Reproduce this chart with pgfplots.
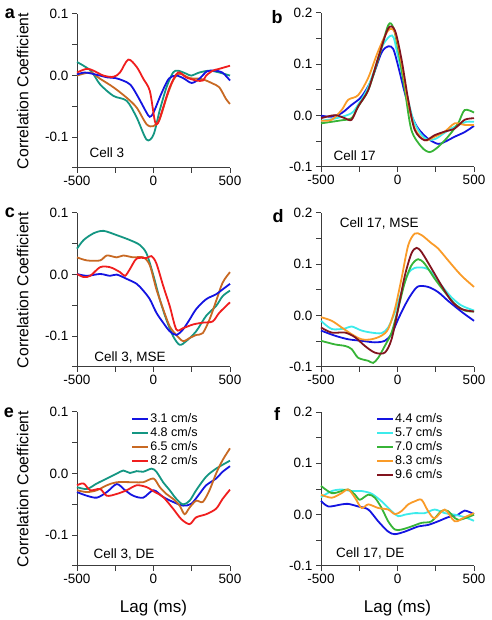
\documentclass[border=0pt]{standalone}
\usepackage{pgfplots}
\pgfplotsset{compat=1.18}
\usepackage{fontspec}
\setmainfont{Liberation Sans}
\definecolor{axisgray}{RGB}{60,60,60}
\definecolor{blueC}{RGB}{20,20,225}
\definecolor{tealC}{RGB}{20,150,130}
\definecolor{brownC}{RGB}{200,105,35}
\definecolor{redC}{RGB}{240,30,30}
\definecolor{cyanC}{RGB}{60,235,235}
\definecolor{greenC}{RGB}{55,180,55}
\definecolor{orangeC}{RGB}{250,155,40}
\definecolor{darkredC}{RGB}{130,20,30}
\tikzset{ann/.style={font=\fontsize{13.5}{16}\selectfont, anchor=west}}
\pgfplotsset{
  panel/.style={
    scale only axis, width=153pt, height=154pt,
    xmin=-500, xmax=500,
    axis x line*=bottom, axis y line*=left,
    tick align=outside, major tick length=5pt,
    xtick={-500,-250,0,250,500}, xticklabels={-500,,0,,500},
    axis line style={line width=1pt, color=axisgray},
    every tick/.style={line width=1pt, color=axisgray},
    tick label style={font=\fontsize{13.5}{16}\selectfont, text=black},
    clip=false,
    every axis plot/.append style={line width=1.8pt, smooth, tension=0.5, no markers},
    legend image code/.code={\draw[#1, line width=1.8pt] (0pt,0pt) -- (16pt,0pt);},
  },
  leftp/.style={panel, ymin=-0.15, ymax=0.1,
    ytick={-0.15,-0.1,-0.05,0,0.05,0.1}, yticklabels={,-0.1,,0.0,,0.1},
    ylabel={Correlation Coefficient},
    ylabel style={at={(axis description cs:-0.354,0.5)}, anchor=center, font=\fontsize{15.8}{18}\selectfont}},
  rightp/.style={panel, ymin=-0.1, ymax=0.2,
    ytick={-0.1,-0.05,0,0.05,0.1,0.15,0.2}, yticklabels={-0.1,,0.0,,0.1,,0.2}},
  lagl/.style={xlabel={Lag (ms)},
    xlabel style={at={(axis description cs:0.5,0)}, yshift=-42pt, anchor=center, font=\fontsize{17}{20}\selectfont}},
  leg/.style={legend style={at={(axis description cs:#1,1.0)}, anchor=north west, draw=none, fill=none,
    inner sep=0pt, row sep=0pt, font=\fontsize{12.5}{15}\selectfont,
    nodes={inner sep=1pt, text height=9.5pt, text depth=2.5pt}},
    legend cell align=left},
}
\begin{document}
\begin{tikzpicture}[x=1pt,y=1pt]
\useasboundingbox (0,0) rectangle (491,620);
\tikzset{plet/.style={font=\fontsize{18}{20}\selectfont\bfseries, anchor=center}}
\node[plet] at (10,606) {a};
\node[plet] at (277,603) {b};
\node[plet] at (10,407) {c};
\node[plet] at (278,404) {d};
\node[plet] at (9,207) {e};
\node[plet] at (277,206) {f};

% ---------- a ----------
\begin{axis}[leftp, at={(77pt,452pt)}, anchor=south west]
\addplot[tealC] coordinates {(-500,0.022)(-410,0.008)(-350,-0.014)(-262,-0.033)(-175,-0.041)(-110,-0.068)(-45,-0.104)(0,-0.096)(40,-0.057)(85,-0.019)(128,0.005)(160,0.008)(215,0.003)(247,0)(300,0.005)(366,0.008)(430,0.005)(500,0)};
\addplot[brownC] coordinates {(-500,0)(-413,0.005)(-350,-0.005)(-262,-0.019)(-175,-0.036)(-110,-0.052)(-45,-0.079)(0,-0.082)(40,-0.071)(85,-0.036)(128,-0.008)(170,0.003)(236,-0.004)(300,-0.005)(344,-0.008)(387,-0.013)(430,-0.019)(474,-0.038)(500,-0.046)};
\addplot[blueC] coordinates {(-500,0.002)(-450,0.005)(-400,0.003)(-350,0)(-300,-0.003)(-250,-0.004)(-200,-0.008)(-150,-0.015)(-100,-0.035)(-50,-0.058)(-25,-0.067)(0,-0.06)(50,-0.03)(100,-0.005)(150,0)(200,-0.005)(250,-0.012)(300,-0.005)(350,0.007)(400,0.008)(450,0.005)(500,-0.008)};
\addplot[redC] coordinates {(-500,0.005)(-437,0.011)(-392,0.008)(-327,0)(-262,-0.002)(-219,0.005)(-165,0.026)(-110,0.014)(-67,-0.005)(-24,-0.025)(9,-0.074)(30,-0.077)(63,-0.052)(106,-0.019)(160,0.005)(214,-0.003)(280,-0.008)(323,-0.008)(344,0)(388,0.008)(430,0.011)(500,0.016)};
\node[ann] at (axis description cs:0.06,0.1) {Cell 3};
\end{axis}

% ---------- b ----------
\begin{axis}[rightp, at={(321pt,453pt)}, anchor=south west]
\addplot[blueC] coordinates {(-500,0)(-430,-0.002)(-365,0.005)(-300,0.021)(-235,0.037)(-170,0.07)(-104,0.123)(-61,0.135)(-28,0.13)(4,0.097)(48,0.044)(91,0.001)(135,-0.025)(200,-0.045)(265,-0.055)(309,-0.051)(374,-0.041)(439,-0.032)(500,-0.02)};
\addplot[cyanC] coordinates {(-500,-0.01)(-400,-0.005)(-300,0.005)(-250,0.025)(-200,0.05)(-150,0.09)(-100,0.135)(-50,0.155)(-25,0.152)(0,0.12)(50,0.055)(100,-0.005)(150,-0.035)(200,-0.047)(250,-0.045)(300,-0.035)(350,-0.025)(400,-0.018)(450,-0.012)(500,-0.012)};
\addplot[greenC] coordinates {(-500,-0.015)(-365,-0.009)(-300,-0.005)(-257,0.018)(-191,0.05)(-126,0.11)(-61,0.176)(-28,0.172)(4,0.13)(48,0.05)(91,-0.028)(157,-0.061)(210,-0.071)(265,-0.061)(330,-0.041)(396,-0.015)(439,0.011)(500,0.006)};
\addplot[orangeC] coordinates {(-500,-0.01)(-430,-0.008)(-365,0.011)(-322,0.031)(-257,0.04)(-191,0.074)(-126,0.126)(-61,0.166)(-17,0.162)(26,0.103)(70,0.024)(113,-0.025)(178,-0.048)(243,-0.041)(309,-0.031)(374,-0.015)(439,-0.018)(500,-0.018)};
\addplot[darkredC] coordinates {(-500,-0.005)(-409,0.001)(-343,-0.005)(-300,-0.008)(-257,0.018)(-191,0.05)(-126,0.113)(-61,0.17)(-17,0.166)(26,0.11)(70,0.031)(113,-0.028)(178,-0.048)(243,-0.038)(309,-0.031)(374,-0.025)(439,-0.008)(500,-0.005)};
\node[ann] at (axis description cs:0.06,0.075) {Cell 17};
\end{axis}

% ---------- c ----------
\begin{axis}[leftp, at={(77pt,253pt)}, anchor=south west]
\addplot[tealC] coordinates {(-500,0.042)(-457,0.056)(-392,0.067)(-327,0.071)(-240,0.064)(-154,0.056)(-89,0.048)(-45,0.034)(0,-0.002)(41,-0.04)(84,-0.073)(128,-0.1)(171,-0.114)(214,-0.108)(279,-0.092)(344,-0.067)(409,-0.051)(452,-0.035)(500,-0.026)};
\addplot[brownC] coordinates {(-500,0.028)(-435,0.023)(-349,0.023)(-305,0.031)(-240,0.028)(-197,0.031)(-132,0.028)(-67,0.028)(-24,0.015)(19,-0.024)(63,-0.056)(106,-0.084)(149,-0.098)(193,-0.108)(236,-0.103)(279,-0.098)(322,-0.095)(366,-0.073)(409,-0.043)(452,-0.013)(500,0.004)};
\addplot[blueC] coordinates {(-500,0.001)(-435,-0.002)(-349,0.001)(-284,-0.002)(-240,0)(-175,-0.007)(-110,-0.015)(-67,-0.026)(-24,-0.04)(19,-0.062)(63,-0.078)(106,-0.092)(149,-0.098)(193,-0.089)(236,-0.073)(279,-0.056)(344,-0.04)(409,-0.032)(452,-0.024)(500,-0.015)};
\addplot[redC] coordinates {(-500,0.001)(-457,-0.004)(-413,-0.002)(-349,0.012)(-284,0.012)(-219,0.004)(-186,-0.002)(-154,0.009)(-110,0.026)(-45,0.027)(-13,0.03)(19,0.018)(63,-0.018)(106,-0.051)(149,-0.089)(193,-0.087)(258,-0.081)(322,-0.078)(387,-0.076)(430,-0.062)(500,-0.045)};
\node[ann] at (axis description cs:0.09,0.06) {Cell 3, MSE};
\end{axis}

% ---------- d ----------
\begin{axis}[rightp, at={(321pt,253pt)}, anchor=south west]
\addplot[blueC] coordinates {(-500,-0.029)(-409,-0.039)(-322,-0.046)(-235,-0.049)(-148,-0.052)(-83,-0.049)(-39,-0.036)(4,-0.007)(48,0.02)(91,0.042)(135,0.057)(200,0.056)(265,0.046)(330,0.029)(396,0.013)(439,0.003)(500,-0.01)};
\addplot[cyanC] coordinates {(-500,-0.01)(-430,-0.026)(-343,-0.025)(-300,-0.021)(-235,-0.029)(-170,-0.033)(-104,-0.034)(-61,-0.023)(-17,0.007)(26,0.046)(70,0.082)(113,0.093)(178,0.093)(222,0.085)(287,0.059)(352,0.036)(417,0.02)(500,0.01)};
\addplot[greenC] coordinates {(-500,-0.049)(-409,-0.056)(-343,-0.059)(-300,-0.065)(-257,-0.082)(-191,-0.088)(-159,-0.092)(-126,-0.082)(-83,-0.059)(-39,-0.033)(4,0.013)(48,0.065)(91,0.098)(135,0.11)(178,0.101)(243,0.072)(309,0.046)(374,0.023)(439,0.01)(500,0.008)};
\addplot[orangeC] coordinates {(-500,-0.003)(-430,-0.01)(-365,-0.023)(-300,-0.036)(-235,-0.046)(-170,-0.046)(-104,-0.039)(-61,-0.026)(-17,0.013)(26,0.072)(70,0.137)(113,0.16)(157,0.157)(222,0.141)(265,0.131)(330,0.108)(396,0.085)(439,0.072)(500,0.056)};
\addplot[darkredC] coordinates {(-500,-0.023)(-430,-0.033)(-343,-0.033)(-278,-0.042)(-213,-0.059)(-148,-0.072)(-83,-0.072)(-39,-0.046)(4,0.013)(48,0.078)(91,0.121)(124,0.132)(157,0.124)(222,0.092)(287,0.059)(352,0.029)(417,0.013)(500,0.008)};
\node[ann] at (axis description cs:0.1,0.935) {Cell 17, MSE};
\end{axis}

% ---------- e ----------
\begin{axis}[leftp, lagl, leg=0.355, at={(77pt,54pt)}, anchor=south west]
\addplot[blueC] coordinates {(-500,-0.03)(-435,-0.036)(-370,-0.039)(-305,-0.03)(-240,-0.017)(-186,-0.027)(-132,-0.036)(-67,-0.039)(0,-0.027)(63,-0.038)(128,-0.046)(193,-0.052)(247,-0.049)(300,-0.033)(344,-0.019)(409,-0.008)(452,0.003)(500,0.012)};
\addlegendentry{3.1 cm/s}
\addplot[tealC] coordinates {(-500,-0.022)(-435,-0.025)(-370,-0.016)(-305,-0.008)(-240,0)(-197,0.005)(-154,0.001)(-110,0.004)(-67,0.003)(-13,0.008)(19,0.003)(63,-0.014)(106,-0.027)(149,-0.041)(193,-0.05)(236,-0.044)(279,-0.027)(344,-0.005)(409,0.008)(500,0.021)};
\addlegendentry{4.8 cm/s}
\addplot[brownC] coordinates {(-500,-0.027)(-435,-0.03)(-370,-0.027)(-305,-0.019)(-240,-0.014)(-132,-0.014)(-67,-0.014)(0,-0.008)(41,-0.022)(84,-0.033)(128,-0.041)(171,-0.052)(203,-0.066)(236,-0.055)(279,-0.044)(322,-0.046)(366,-0.027)(409,0)(452,0.022)(500,0.041)};
\addlegendentry{6.5 cm/s}
\addplot[redC] coordinates {(-500,-0.019)(-457,-0.016)(-413,-0.027)(-349,-0.025)(-305,-0.036)(-240,-0.033)(-175,-0.027)(-110,-0.019)(-45,-0.022)(9,-0.03)(63,-0.038)(128,-0.057)(182,-0.074)(236,-0.082)(279,-0.071)(344,-0.066)(409,-0.057)(452,-0.041)(500,-0.026)};
\addlegendentry{8.2 cm/s}
\node[ann] at (axis description cs:0.085,0.075) {Cell 3, DE};
\end{axis}

% ---------- f ----------
\begin{axis}[rightp, lagl, leg=0.36, at={(321pt,54pt)}, anchor=south west]
\addplot[blueC] coordinates {(-500,0.027)(-452,0.016)(-365,0.02)(-322,0.021)(-257,0.016)(-191,0.01)(-126,-0.013)(-61,-0.033)(-17,-0.038)(48,-0.033)(135,-0.023)(200,-0.02)(265,-0.013)(330,-0.005)(396,0)(439,0.008)(500,0.001)};
\addlegendentry{4.4 cm/s}
\addplot[cyanC] coordinates {(-500,0.034)(-430,0.046)(-365,0.049)(-300,0.046)(-235,0.046)(-170,0.041)(-104,0.026)(-39,0.007)(4,-0.003)(48,0)(113,0.003)(178,0.003)(243,0.01)(309,0.003)(374,0)(439,-0.005)(500,-0.012)};
\addlegendentry{5.7 cm/s}
\addplot[greenC] coordinates {(-500,0.056)(-430,0.042)(-365,0.046)(-322,0.049)(-278,0.039)(-246,0.029)(-191,0.039)(-148,0.033)(-104,0.013)(-61,-0.013)(-17,-0.029)(26,-0.029)(91,-0.023)(157,-0.016)(222,-0.013)(287,0.007)(330,0.007)(396,-0.01)(500,0)};
\addlegendentry{7.0 cm/s}
\addplot[orangeC] coordinates {(-500,0.039)(-430,0.033)(-365,0.042)(-322,0.049)(-278,0.033)(-235,0.013)(-191,0.02)(-126,0.013)(-61,0.01)(-17,0.001)(26,0.007)(70,0.02)(113,0.026)(157,0.029)(200,0.007)(243,-0.007)(309,0.01)(374,-0.013)(439,-0.005)(500,0.003)};
\addlegendentry{8.3 cm/s}
\addlegendimage{darkredC}
\addlegendentry{9.6 cm/s}
\node[ann] at (axis description cs:0.075,0.08) {Cell 17, DE};
\end{axis}
\end{tikzpicture}
\end{document}
